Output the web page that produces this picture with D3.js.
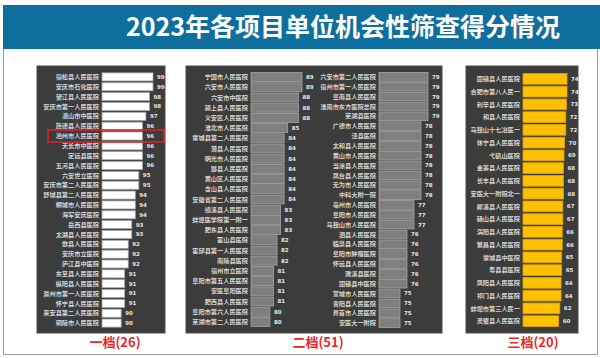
<!DOCTYPE html>
<html><head><meta charset="utf-8">
<script src="https://cdn.jsdelivr.net/npm/d3@7"></script>
<style>html,body{margin:0;padding:0;background:#fff;}svg{display:block;}</style>
</head><body>
<script>
const title = "2023年各项目单位机会性筛查得分情况";
const tierLabels = ["一档(26)", "二档(51)", "三档(20)"];

const tier1Names = ["宿松县人民医院","安庆市石化医院","望江县人民医院","安庆市第一人民医院","潜山市中医院","旌德县人民医院","池州市人民医院","天长市中医院","定远县医院","五河县人民医院","六安世立医院","安庆市第二人民医院","舒城县第二人民医院","桐城市人民医院","海军安庆医院","岳西县医院","太湖县人民医院","歙县人民医院","安庆市立医院","庐江县中医院","东至县人民医院","枞阳县人民医院","滁州市第一人民医院","怀宁县人民医院","来安县第二人民医院","铜陵市人民医院"];
const tier1Values = [99,99,98,98,97,96,96,96,96,96,95,95,94,94,94,93,93,92,92,92,91,91,91,91,90,90];
const highlightName = "池州市人民医院";

const tier2aNames = ["宁国市人民医院","六安市人民医院","六安市中医院","颍上县人民医院","义安区人民医院","淮北市人民医院","蒙城县第二人民医院","萧县人民医院","明光市人民医院","黟县人民医院","黄山区人民医院","含山县人民医院","安徽省第二人民医院","绩溪县人民医院","蚌埠医学院第一附一","肥东县人民医院","霍山县医院","霍邱县第一人民医院","南陵县医院","宿州市立医院","阜阳市第五人民医院","安医阜阳医院","肥西县人民医院","阜阳市第六人民医院","芜湖市第二人民医院"];
const tier2aValues = [89,89,88,88,88,85,84,84,84,84,84,84,84,83,83,83,82,82,82,81,81,81,81,80,80];

const tier2bNames = ["六安市第二人民医院","宿州市第一人民医院","阜南县人民医院","淮南市东方医院总院","芜湖县医院","广德市人民医院","泾县医院","太和县人民医院","黄山市人民医院","当涂县人民医院","凤台县人民医院","无为市人民医院","中科大附一院","亳州市人民医院","阜阳市人民医院","马鞍山市人民医院","泗县人民医院","临泉县人民医院","阜阳市肿瘤医院","怀远县人民医院","濉溪县医院","固镇县中医院","宣城市人民医院","青阳县人民医院","界首市人民医院","安医大一附院"];
const tier2bValues = [79,79,79,79,79,78,78,78,78,78,78,78,78,77,77,77,76,76,76,76,76,76,75,75,75,75];

const tier3Names = ["固镇县人民医院","合肥市第八人民一","利辛县人民医院","和县人民医院","马鞍山十七冶医一","休宁县人民医院","弋矶山医院","金寨县人民医院","长丰县人民医院","安医大一附院北一","郎溪县人民医院","砀山县人民医院","涡阳县人民医院","繁昌县人民医院","蒙城县中医院","寿县县医院","凤阳县人民医院","祁门县人民医院","蚌埠市第三人民一","灵璧县人民医院"];
const tier3Values = [74,74,73,72,72,70,69,68,68,68,67,67,66,66,65,65,64,64,62,60];

const W = 600, H = 358;
const svg = d3.select("body").append("svg").attr("width", W).attr("height", H);
const FONT = "'Noto Sans CJK SC','Noto Sans',sans-serif";

// frame
svg.append("path").attr("d", `M3.5,49 V354.5 H597.5 V49`).attr("fill","none").attr("stroke","#9a9a9a").attr("stroke-width",1);
// banner
svg.append("rect").attr("x",3).attr("y",5).attr("width",597).attr("height",44).attr("fill","#0e6f9e");
svg.append("text").attr("x",343).attr("y",36).attr("text-anchor","middle")
  .attr("font-family",FONT).attr("font-size",25).attr("font-weight","bold").attr("fill","#fff").text(title);

// panels
const panels = [
  {x0:37, x1:165},
  {x0:186, x1:442},
  {x0:466, x1:578}
];
const panelTop = 66, panelBottom = 333;
panels.forEach((p,i)=>{
  svg.append("rect").attr("x",p.x0).attr("y",panelTop).attr("width",p.x1-p.x0).attr("height",panelBottom-panelTop)
    .attr("fill","#3c3c3c").attr("stroke","#4a4a4a");
});
const labelCenters = [115, 318, 533];
tierLabels.forEach((t,i)=>{
  svg.append("text").attr("x",labelCenters[i]).attr("y",347).attr("text-anchor","middle")
    .attr("font-family",FONT).attr("font-size",13).attr("font-weight","bold").attr("fill","#e8262b").text(t);
});

function drawColumn(names, values, cfg){
  const y = d3.scaleBand().domain(names).range(cfg.yRange).paddingInner(cfg.pad).paddingOuter(cfg.pad/2);
  const x = d3.scaleLinear().domain(cfg.domain).range(cfg.xRange);
  const g = svg.append("g");
  const data = names.map((n,i)=>({name:n, value:values[i]}));
  g.selectAll("rect.bar").data(data).join("rect").attr("class","bar")
    .attr("x", cfg.xRange[0]).attr("y", d=>y(d.name))
    .attr("width", d=>x(d.value)-cfg.xRange[0]).attr("height", y.bandwidth())
    .attr("fill", cfg.fill).attr("stroke", cfg.stroke).attr("stroke-width", 0.8);
  g.selectAll("text.lab").data(data).join("text").attr("class","lab")
    .attr("x", cfg.xRange[0]-3).attr("y", d=>y(d.name)+y.bandwidth()/2)
    .attr("dy","0.35em").attr("text-anchor","end")
    .attr("font-family",FONT).attr("font-size",6.2).attr("font-weight","bold").attr("fill","#d4d4d4")
    .text(d=>d.name);
  g.selectAll("text.val").data(data).join("text").attr("class","val")
    .attr("x", d=>x(d.value)+4).attr("y", d=>y(d.name)+y.bandwidth()/2)
    .attr("dy","0.35em")
    .attr("font-family","'DejaVu Sans',sans-serif").attr("font-size",5.5).attr("font-weight","bold").attr("fill","#e6e6e6")
    .text(d=>d.value);
  return {x,y};
}

const s1 = drawColumn(tier1Names, tier1Values, {yRange:[72,328], pad:0.18, domain:[84.6,99], xRange:[102,153], fill:"#ffffff", stroke:"#a6a6a6"});
drawColumn(tier2aNames, tier2aValues, {yRange:[72,327], pad:0.12, domain:[74.7,89], xRange:[251,302], fill:"#7f7f7f", stroke:"#a3a3a3"});
drawColumn(tier2bNames, tier2bValues, {yRange:[72,328], pad:0.12, domain:[72,79], xRange:[379,428], fill:"#7f7f7f", stroke:"#a3a3a3"});
drawColumn(tier3Names, tier3Values, {yRange:[72.5,327.5], pad:0.16, domain:[0,74], xRange:[523,567], fill:"#ffc000", stroke:"#d9a300"});

// highlight box
const hy = s1.y(highlightName) + s1.y.bandwidth()/2;
svg.append("rect").attr("x",48).attr("y",hy-6).attr("width",116).attr("height",12)
  .attr("fill","none").attr("stroke","#e02020").attr("stroke-width",1.6);
</script>
</body></html>
